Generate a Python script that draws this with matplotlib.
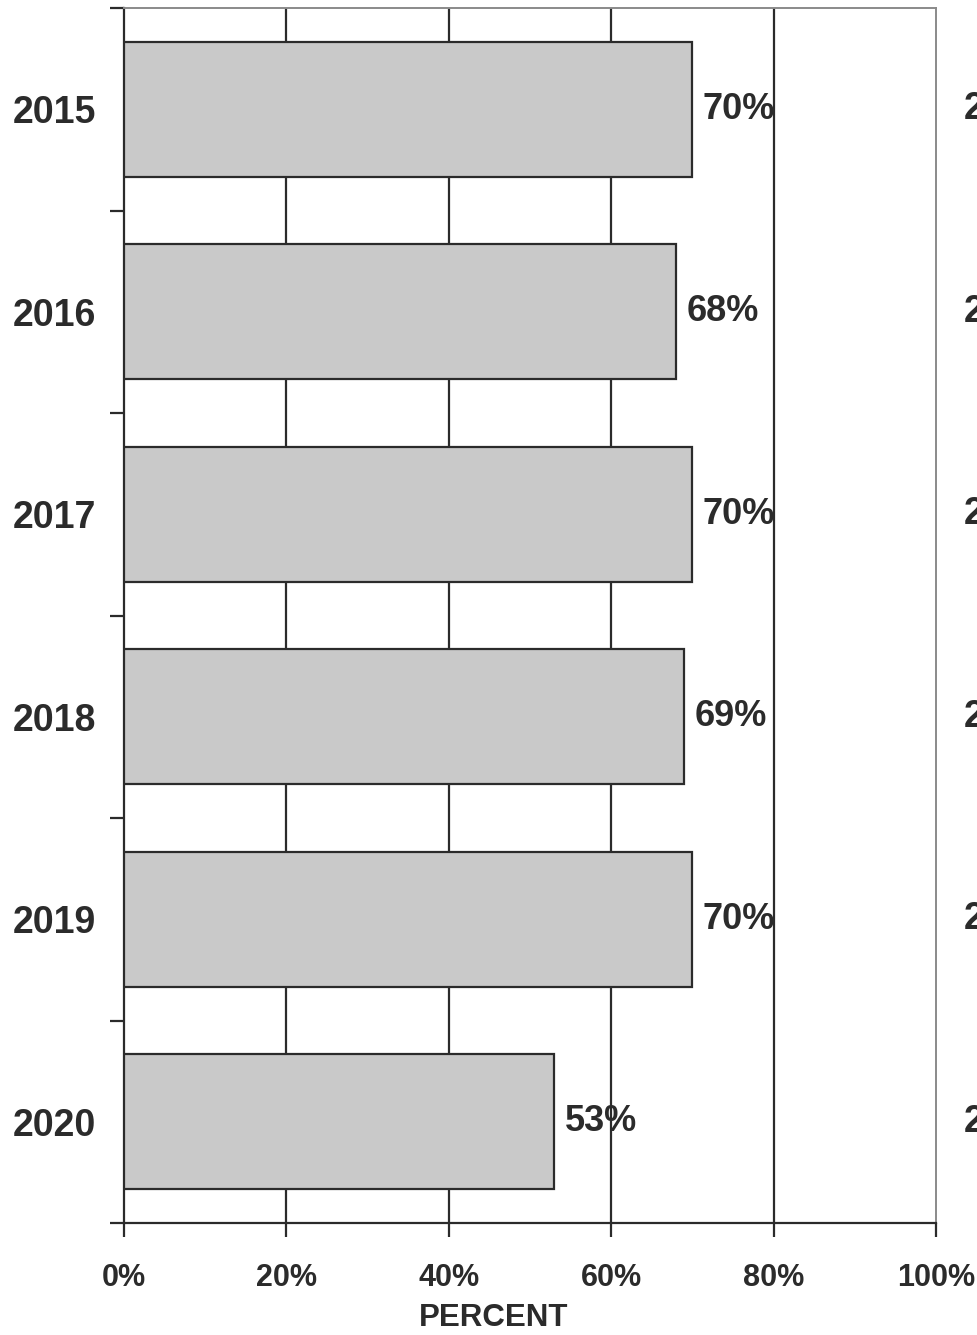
import numpy as np
import matplotlib
matplotlib.use("Agg")
import matplotlib.pyplot as plt

plt.rcParams["font.family"] = ["Liberation Sans", "DejaVu Sans"]

YEARS = ["2015", "2016", "2017", "2018", "2019", "2020"]
PCT = [70, 68, 70, 69, 70, 53]
XTICKS = [0, 20, 40, 60, 80, 100]

INK = "#2b2b2b"
BAR = "#c9c9c9"

fig = plt.figure(figsize=(9.78, 13.35), dpi=100)
ax = fig.add_axes([124 / 978, 1 - 1223 / 1335, 812 / 978, 1215 / 1335])

pos = np.arange(len(YEARS))
ax.barh(pos, PCT, height=0.667, color=BAR, edgecolor=INK, linewidth=1.6, zorder=3)
for y, v in zip(pos, PCT):
    ax.text(v + 1.3, y, f"{v}%", ha="left", va="center", fontsize=26,
            fontweight="bold", color=INK, zorder=4)

ax.set_xlim(0, 100)
ax.set_ylim(len(YEARS) - 0.5, -0.5)

# vertical gridlines; the 100% edge is lighter like the scan
for x in XTICKS[1:-1]:
    ax.axvline(x, color=INK, lw=1.6, zorder=1)

ax.set_xticks(XTICKS)
ax.set_xticklabels([f"{x}%" for x in XTICKS], fontsize=22, fontweight="bold", color=INK)
ax.tick_params(axis="x", direction="out", length=10, width=1.6, color=INK, pad=19)

ax.set_yticks(pos)
ax.set_yticklabels(YEARS, fontsize=27, fontweight="bold", color=INK)
ax.tick_params(axis="y", which="major", length=0, pad=20)
ax.set_yticks(np.arange(-0.5, len(YEARS), 1.0), minor=True)
ax.tick_params(axis="y", which="minor", direction="out", length=10, width=1.6, color=INK)

for side in ("left", "bottom"):
    ax.spines[side].set_color(INK)
    ax.spines[side].set_linewidth(1.6)
for side in ("top", "right"):
    ax.spines[side].set_color("#8a8a8a")
    ax.spines[side].set_linewidth(1.4)

fig.text(494 / 978, 1 - 1318 / 1335, "PERCENT", ha="center", va="center",
         fontsize=22.5, fontweight="bold", color=INK)

# edge of the neighbouring chart's labels, cut off by the page
for y in pos:
    yf = ax.transData.transform((0, y))[1] / fig.bbox.height
    fig.text(964 / 978, yf, YEARS[y], ha="left", va="center", fontsize=27,
             fontweight="bold", color=INK)

fig.savefig("out.png", dpi=100)
